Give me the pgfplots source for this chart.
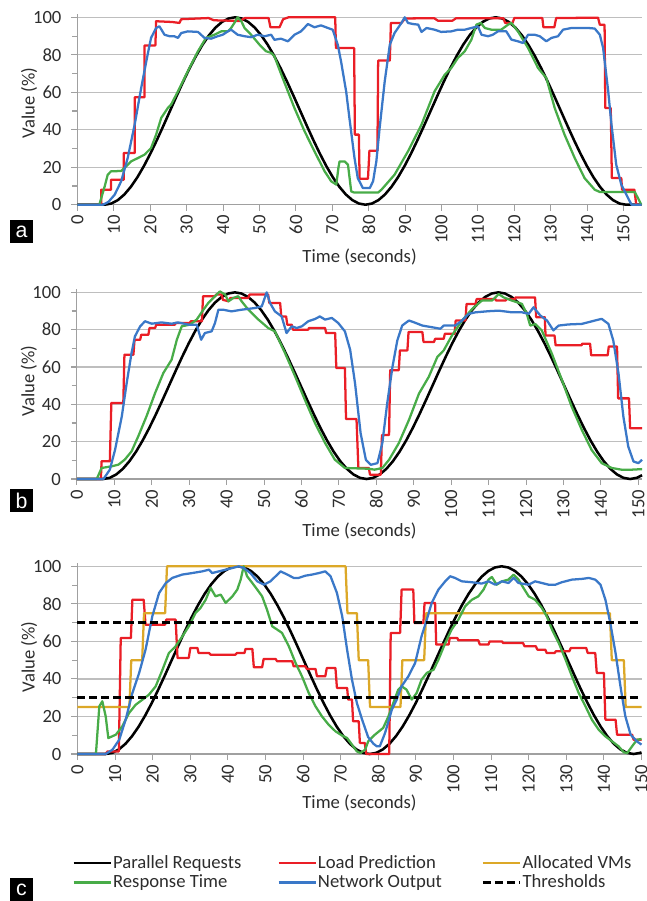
\documentclass[border=0pt]{standalone}
\usepackage{fontspec}
\setmainfont{Carlito}
\newfontfamily\boxfont{Liberation Sans}
\usepackage{pgfplots}
\pgfplotsset{compat=1.18}

\definecolor{cBlack}{RGB}{0,0,0}
\definecolor{cRed}{RGB}{234,30,38}
\definecolor{cGreen}{RGB}{72,172,72}
\definecolor{cBlue}{RGB}{58,120,200}
\definecolor{cGold}{RGB}{220,168,40}
\definecolor{axisgray}{RGB}{160,160,160}
\definecolor{gridgray}{RGB}{190,190,190}
\definecolor{txtgray}{RGB}{45,45,45}

\pgfplotsset{
  panel/.style={
    scale only axis, anchor=south west, clip=false,
    xmin=0, ymin=0, ymax=102,
    axis lines=left, axis line style={-, draw=axisgray, line width=0.9pt},
    tick align=outside,
    xtick={0,10,...,150}, ytick={0,20,...,100}, minor ytick={10,30,...,90},
    major tick length=4.5pt, minor tick length=4pt,
    tick style={draw=axisgray, line width=0.8pt},
    ymajorgrids, major grid style={draw=gridgray, line width=0.9pt},
    tick label style={font=\fontsize{14}{16}\selectfont, text=txtgray},
    xticklabel style={rotate=90, anchor=east},
    yticklabel style={xshift=-4pt},
    label style={font=\fontsize{14}{16}\selectfont, text=txtgray},
    xlabel={Time (seconds)}, ylabel={Value (\%)},
    /pgf/number format/assume math mode=true,
    every axis plot/.append style={line width=1.7pt, line join=round},
  },
  plBlack/.style={cBlack, line width=1.9pt},
  plRed/.style={cRed},
  plGreen/.style={cGreen},
  plBlue/.style={cBlue},
  plGold/.style={cGold},
  plThr/.style={black, line width=2.2pt, dash pattern=on 6pt off 3pt},
}

\newcommand{\panelbox}[2]{\node[fill=black, text=white, minimum width=17.25pt, minimum height=17.25pt, inner sep=0pt, font=\boxfont\fontsize{16}{16}\selectfont] at (#1) {#2};}

\begin{document}
\begin{tikzpicture}
\path[use as bounding box] (0,0) rectangle (485.25pt,-675.75pt);

% ---------------- panel a ----------------
\begin{axis}[panel, at={(58.125pt,-153.525pt)}, width=423.15pt, height=143.36pt, xmax=155,
  xlabel style={at={(axis description cs:0.5,-0.2736)}, anchor=center},
  ylabel style={at={(axis description cs:-0.086,0.532)}, anchor=center}]
\addplot[plBlack] coordinates {(0,0)(7.5,0)(9.29,0.62)(11.08,2.45)(12.87,5.45)(14.66,9.55)(16.45,14.64)(18.24,20.61)(20.03,27.30)(21.82,34.55)(23.61,42.18)(25.4,50)(27.19,57.82)(28.98,65.45)(30.77,72.70)(32.56,79.39)(34.35,85.36)(36.14,90.45)(37.93,94.55)(39.72,97.55)(41.51,99.38)(43.3,100)(45.09,99.38)(46.88,97.55)(48.67,94.55)(50.46,90.45)(52.25,85.36)(54.04,79.39)(55.83,72.70)(57.62,65.45)(59.41,57.82)(61.2,50)(62.99,42.18)(64.78,34.55)(66.57,27.30)(68.36,20.61)(70.15,14.64)(71.94,9.55)(73.73,5.45)(75.52,2.45)(77.31,0.62)(79.1,0)(80.89,0.62)(82.68,2.45)(84.47,5.45)(86.26,9.55)(88.05,14.64)(89.84,20.61)(91.63,27.30)(93.42,34.55)(95.21,42.18)(97.0,50)(98.79,57.82)(100.58,65.45)(102.37,72.70)(104.16,79.39)(105.95,85.36)(107.74,90.45)(109.53,94.55)(111.32,97.55)(113.11,99.38)(114.9,100)(116.69,99.38)(118.48,97.55)(120.27,94.55)(122.06,90.45)(123.85,85.36)(125.64,79.39)(127.43,72.70)(129.22,65.45)(131.01,57.82)(132.8,50)(134.59,42.18)(136.38,34.55)(138.17,27.30)(139.96,20.61)(141.75,14.64)(143.54,9.55)(145.33,5.45)(147.12,2.45)(148.91,0.62)(150.7,0)(155,0)};
\addplot[plRed] coordinates {(0,0)(6.5,0)(6.5,8)(9.2,8)(9.2,13.3)(12.7,13.3)(12.7,27.6)(15.7,27.6)(15.7,57.3)(18.4,57.3)(18.4,85)(21.4,85)(21.6,97.9)(26,97.5)(28,97)(28.5,99)(36,99.6)(37.5,98.4)(40,98.3)(44.5,98)(46,99.6)(52.5,99.6)(53,94.7)(55.5,94.7)(56.5,99)(58,100)(70.8,100)(71,83.6)(76,83.6)(76.2,37.4)(77.3,37.4)(77.5,13.9)(79.8,13.9)(80.2,28.8)(82.4,28.8)(82.6,76.9)(85.8,76.9)(86.1,97)(89,97)(90,99.4)(98,99.5)(99,98.2)(103,98.2)(104,99.5)(117,99.5)(117.5,97)(119.5,97)(120,99.6)(127.7,99.6)(128,94.7)(131,94.7)(131.5,99.6)(143,99.8)(143.5,96)(144.8,96)(145,51.6)(146.5,51.6)(146.8,14.2)(149.4,14.2)(149.6,8)(153,8)(153.5,0)(155,0)};
\addplot[plGreen] coordinates {(0,0)(6,0)(7.5,10)(8.3,16)(9.2,17.8)(12,18)(12.9,19.6)(14.7,23.1)(16.6,24.9)(18.4,26.7)(20.2,30.2)(21.6,37.4)(23,46.3)(24.8,51.6)(25.7,53.4)(27.6,60.5)(30.3,71.2)(33.1,81.9)(35.3,89)(37.6,90.7)(39.5,92.5)(41.3,92.5)(42.2,94.3)(43.1,97)(44,100)(45,97.9)(45.9,94.3)(47.7,90.7)(50,85.4)(51.8,81.9)(53.2,81)(54.1,79.2)(56,69.4)(57.8,60.5)(59.6,51.6)(62.4,39.1)(65.1,28.5)(67.9,17.8)(69.7,12.5)(71.1,10.7)(71.7,20)(72,23.1)(73.4,23.1)(74.3,21.4)(75.2,7.1)(76,6.5)(82.6,6.5)(83.5,8)(87.1,16)(90.8,28.5)(94.5,42.7)(98.1,60.5)(100.9,69.4)(102.7,73)(104.5,78.3)(106.4,81.9)(108.2,88)(109.6,96.1)(110.8,97)(111.9,94.3)(113.7,93.4)(116.4,93.4)(118.3,96.1)(119.2,97)(121,92.5)(123.8,83.6)(126.5,73)(128.8,67.6)(131.1,51.6)(133.8,37.4)(136.6,24.9)(139.3,14.2)(142.1,8)(143.5,6.8)(153.1,6.8)(154.9,0)(155,0)};
\addplot[plBlue] coordinates {(0,0)(7,0)(8.5,1.5)(10.2,5.3)(12,12.5)(13.8,25)(15.7,42.7)(17.5,62.3)(18.9,76.5)(20.2,89)(21.6,94.3)(22.5,95.2)(23.9,90.7)(25.3,89.9)(26.6,89.9)(27.6,89)(28.5,91.6)(30.3,92.5)(33.1,92.2)(34.9,89)(36.7,88.6)(38.5,89.9)(39.9,90.7)(41.3,92.5)(42.2,93.4)(44,90.7)(45.9,89.9)(47.7,89.4)(49.5,90.7)(51.4,89.9)(53.2,90.7)(54.1,88)(55.9,88.6)(57.8,87.2)(59.6,90.7)(61.4,92.5)(63.3,96.4)(65.1,94.7)(66.9,95.7)(68.8,94.3)(70.1,93.4)(71.5,85.4)(72.4,76.5)(73.8,60.5)(74.7,46.3)(76.1,24.9)(77,14.2)(78.4,8.9)(80.3,8.9)(81.2,12.5)(82.1,23.1)(83,40.9)(84.4,65.8)(85.8,85.4)(87.1,91.6)(89,97)(89.9,100)(90.8,97)(92.2,96.4)(93.6,96.1)(94.5,92.2)(95.9,94.3)(98.1,93.4)(99.9,92.2)(102.7,92.5)(104.5,93.4)(106.4,93.4)(108.2,94.3)(110,95.2)(111,90.7)(112.8,89.9)(114.1,90.7)(115.5,92.5)(117.8,92.5)(119.2,88.1)(121,87.2)(122.4,86.3)(123.8,90.7)(125.6,90.7)(127,89.9)(128.8,87.2)(130.2,89)(132,89.9)(133.4,93.4)(135.7,94.3)(140.3,94.3)(142.1,94)(143.5,90.7)(144.4,83.6)(145.8,60.5)(146.7,42.7)(148,21.4)(149.4,10.7)(150.8,5.3)(152.2,0)(155,0)};
\end{axis}

% ---------------- panel b ----------------
\begin{axis}[panel, at={(57.675pt,-359.25pt)}, width=423.9pt, height=142.8pt, xmax=151,
  xlabel style={at={(axis description cs:0.5,-0.2731)}, anchor=center},
  ylabel style={at={(axis description cs:-0.085,0.515)}, anchor=center}]
\addplot[plBlack] coordinates {(0,0)(7,0)(8.76,0.62)(10.52,2.45)(12.28,5.45)(14.04,9.55)(15.8,14.64)(17.56,20.61)(19.32,27.30)(21.08,34.55)(22.84,42.18)(24.6,50)(26.36,57.82)(28.12,65.45)(29.88,72.70)(31.64,79.39)(33.4,85.36)(35.16,90.45)(36.92,94.55)(38.68,97.55)(40.44,99.38)(42.2,100)(43.96,99.38)(45.72,97.55)(47.48,94.55)(49.24,90.45)(51.0,85.36)(52.76,79.39)(54.52,72.70)(56.28,65.45)(58.04,57.82)(59.8,50)(61.56,42.18)(63.32,34.55)(65.08,27.30)(66.84,20.61)(68.6,14.64)(70.36,9.55)(72.12,5.45)(73.88,2.45)(75.64,0.62)(77.4,0)(79.16,0.62)(80.92,2.45)(82.68,5.45)(84.44,9.55)(86.2,14.64)(87.96,20.61)(89.72,27.30)(91.48,34.55)(93.24,42.18)(95.0,50)(96.76,57.82)(98.52,65.45)(100.28,72.70)(102.04,79.39)(103.8,85.36)(105.56,90.45)(107.32,94.55)(109.08,97.55)(110.84,99.38)(112.6,100)(114.36,99.38)(116.12,97.55)(117.88,94.55)(119.64,90.45)(121.4,85.36)(123.16,79.39)(124.92,72.70)(126.68,65.45)(128.44,57.82)(130.2,50)(131.96,42.18)(133.72,34.55)(135.48,27.30)(137.24,20.61)(139.0,14.64)(140.76,9.55)(142.52,5.45)(144.28,2.45)(146.04,0.62)(147.8,0)(149.56,0.62)(151,2.03)};
\addplot[plRed] coordinates {(0,0)(6.4,0)(6.6,9.5)(8.8,9.5)(9.2,40.7)(12.4,40.7)(12.7,66.6)(15.1,66.6)(15.4,74.6)(16.9,74.6)(17.2,77.3)(19.1,77.3)(19.4,80.9)(20.9,80.9)(21.2,82.7)(26.2,82.7)(26.4,83.6)(30.2,83.6)(30.4,84.5)(33.4,84.5)(33.7,97.9)(36.9,97.9)(37.2,98.8)(38.7,98.8)(39,96)(40.5,95.2)(41,97)(45.8,97)(46.1,98.8)(51.1,98.8)(51.4,94.3)(54.3,94.3)(54.6,87.1)(55.9,87.1)(56.2,82.7)(57.4,82.7)(57.7,80)(61.8,80)(62,80.9)(66.3,80.9)(66.6,78.2)(69,78.2)(69.3,59.5)(71.6,59.5)(71.9,32.1)(74.7,32.1)(75.2,5.9)(78,5.9)(78.3,2.3)(81.2,2.3)(81.5,23.6)(83.4,23.6)(83.7,58.3)(86,58.3)(86.3,68.9)(88.3,68.9)(88.6,78.7)(92.3,78.7)(92.6,73.4)(95.4,73.4)(95.7,75.1)(98,75.1)(98.3,77.8)(100.9,77.8)(101.2,84.9)(103.8,84.9)(104.1,93.8)(106.5,93.8)(106.8,96.4)(111.8,96.4)(112,95.6)(114.5,95.6)(114.8,96.4)(117,96.4)(117.2,97.3)(122.4,97.3)(122.7,86.7)(125,86.7)(125.2,76.9)(127.6,76.9)(127.9,71.6)(134.8,71.6)(135,72.5)(137.1,72.5)(137.4,66.3)(141.8,66.3)(142.1,71)(144.3,71)(144.6,43.2)(147.5,43.2)(147.8,27.2)(151,27.2)};
\addplot[plGreen] coordinates {(0,0)(5.3,0)(6.6,5.9)(9.3,6.8)(11.1,7.7)(12.8,10.4)(14.6,14.8)(16.4,22.9)(18.6,33.6)(20.9,46.1)(23.1,56.8)(25.3,63.9)(26.7,74.6)(28,81.8)(30.2,82.7)(32,85.4)(33.8,90.7)(35.1,94.3)(36.9,97.9)(38.2,100.5)(39.6,98.8)(40.5,95.2)(41.8,97)(43.1,97.9)(44,95.2)(45.8,90.7)(48.5,85.4)(51.1,80.9)(52.9,79.1)(55.6,67.5)(58.3,55)(60.9,42.5)(63.6,30)(66.3,19.3)(68.9,10.4)(71.6,5.9)(78,5.5)(79.5,5)(81.6,5.9)(83.4,10.3)(86,19.2)(88.7,31.6)(91.4,45.8)(94,54.7)(96.3,65.4)(98,68.9)(100.2,76.9)(102.9,84.9)(105.6,91.1)(108.2,95.6)(110.9,95.6)(112.7,99.1)(114,97.3)(116.2,95.6)(118.9,93.8)(120.2,88.5)(121.1,82.2)(122.5,83)(124.2,79.6)(126.9,67.1)(129.6,52.9)(132.2,38.7)(134.9,26.3)(137.5,15.6)(140.2,8.5)(142.9,5.9)(145.5,5)(148.2,5)(151,5.3)};
\addplot[plBlue] coordinates {(0,0)(7.1,0)(8.8,5)(10.2,15.7)(12,33.6)(13.3,51.4)(14.6,67.5)(15.5,76.4)(16.9,81.8)(18.2,84.5)(20,83.2)(22.6,83.9)(25.3,83.2)(27,83.9)(29.8,82.7)(32,82.7)(33.2,74.6)(34.2,78.2)(36,79.1)(36.9,83.6)(37.8,90.7)(39.1,90.7)(41.3,89.8)(44,90.7)(47.6,91.6)(49.4,92.5)(50.7,100)(51.6,94.3)(52.9,89.8)(54.7,87.1)(56,78.2)(57.4,81.8)(58.7,80.9)(60.1,81.8)(61.8,84.5)(63.6,85.7)(64.9,87.1)(66.3,85.4)(68.1,86.3)(69.8,83.6)(71.6,79.1)(73,69.3)(74.3,51.4)(75.8,24.5)(77.2,10.3)(78.5,7.6)(80.3,8.5)(81.6,19.2)(82.9,40.5)(84.3,60)(85.6,74.2)(86.9,82.2)(88.7,84.9)(90,84)(92.3,82.2)(94.9,81.3)(97.1,80.5)(98,82.2)(101.1,82.2)(102.9,84.9)(104.7,88.5)(106.5,89.3)(110,89.9)(112.7,90.2)(116.2,89.3)(118.9,89.3)(120.7,88.5)(122,92)(123.8,87.6)(125.6,84.9)(127.3,79.6)(128.7,82.2)(131.3,82.8)(134.9,83.1)(138.4,84.9)(140.2,85.8)(142,83.1)(143.3,74.2)(144.7,56.5)(146,33.4)(147.3,17.4)(148.7,9.4)(150,8.5)(151,10.3)};
\end{axis}

% ---------------- panel c ----------------
\begin{axis}[panel, at={(58.125pt,-565.5pt)}, width=423pt, height=143.6pt, xmax=150,
  xlabel style={at={(axis description cs:0.5,-0.2559)}, anchor=center},
  ylabel style={at={(axis description cs:-0.086,0.5065)}, anchor=center},
  legend columns=3, legend cell align=left,
  legend image code/.code={\draw[#1] (0pt,0pt) -- (27.75pt,0pt);},
  legend style={draw=none, fill=none, at={(-0.00975,-0.521)}, anchor=north west,
    inner sep=0pt, font=\fontsize{14}{16}\selectfont, text=txtgray, row sep=1.5pt,
    nodes={inner sep=1pt},
    /tikz/column 2/.style={column sep=26pt},
    /tikz/column 4/.style={column sep=28.5pt}}]
\addplot[plBlack] coordinates {(0,0)(7.5,0)(9.26,0.62)(11.01,2.45)(12.77,5.45)(14.52,9.55)(16.28,14.64)(18.03,20.61)(19.79,27.30)(21.54,34.55)(23.3,42.18)(25.05,50)(26.81,57.82)(28.56,65.45)(30.32,72.70)(32.07,79.39)(33.83,85.36)(35.58,90.45)(37.34,94.55)(39.09,97.55)(40.85,99.38)(42.6,100)(44.36,99.38)(46.11,97.55)(47.87,94.55)(49.62,90.45)(51.38,85.36)(53.13,79.39)(54.89,72.70)(56.64,65.45)(58.4,57.82)(60.15,50)(61.91,42.18)(63.66,34.55)(65.42,27.30)(67.17,20.61)(68.93,14.64)(70.68,9.55)(72.44,5.45)(74.19,2.45)(75.95,0.62)(77.7,0)(79.46,0.62)(81.21,2.45)(82.97,5.45)(84.72,9.55)(86.48,14.64)(88.23,20.61)(89.99,27.30)(91.74,34.55)(93.5,42.18)(95.25,50)(97.01,57.82)(98.76,65.45)(100.52,72.70)(102.27,79.39)(104.03,85.36)(105.78,90.45)(107.54,94.55)(109.29,97.55)(111.05,99.38)(112.8,100)(114.56,99.38)(116.31,97.55)(118.07,94.55)(119.82,90.45)(121.58,85.36)(123.33,79.39)(125.09,72.70)(126.84,65.45)(128.6,57.82)(130.35,50)(132.11,42.18)(133.86,34.55)(135.62,27.30)(137.37,20.61)(139.13,14.64)(140.88,9.55)(142.64,5.45)(144.39,2.45)(146.15,0.62)(147.9,0)(149.66,0.62)(150,0.89)};
\addlegendentry{Parallel Requests}
\addplot[plRed] coordinates {(0,0)(7.5,0)(8,1.4)(11,1.4)(11.5,61.8)(14.2,61.8)(14.6,82.2)(17.6,82.2)(18.1,68.9)(23.3,68.9)(23.6,71.6)(26.1,71.6)(26.6,51.2)(29.6,51.2)(30,56.5)(31.9,56.5)(32.2,53.8)(35,53.8)(35.4,52.9)(42,52.9)(42.4,53.8)(44.4,53.8)(44.7,56)(46.5,56)(46.9,46.2)(49.1,46.2)(49.5,50.6)(52.7,50.6)(53.1,49.4)(57.1,49.4)(57.5,46.7)(60.6,46.7)(61,45.3)(63.3,45.3)(63.7,41.4)(65.9,41.4)(66.3,45.8)(68.6,45.8)(69,35.2)(71.7,35.2)(72,29)(73,29)(73.3,17.4)(74.8,17.4)(75.1,5.9)(76.4,5.9)(76.8,0)(82.9,0)(83.3,64.5)(85.8,64.5)(86.2,87.6)(89.3,87.6)(89.6,69.8)(92,69.8)(92.3,80.5)(95.1,80.5)(95.4,58.3)(98.7,58.3)(99,61.8)(101,61.8)(101.3,60.6)(106.6,60.6)(107,58.3)(109.3,58.3)(109.6,60)(112.9,60)(113.2,59.1)(118.5,59.1)(118.9,57.4)(121.9,57.4)(122.3,55.6)(124.4,55.6)(124.8,53.8)(126.9,53.8)(127.2,54.7)(130.8,54.7)(131.2,56.5)(135.3,56.5)(135.7,53.8)(137.7,53.8)(138.1,43.2)(140,43.2)(140.4,18.3)(143.1,18.3)(143.5,10.3)(147.5,10.3)(147.9,7.6)(150,7.6)};
\addlegendentry{Load Prediction}
\addplot[plGold] coordinates {(0,25)(13.8,25)(14.3,50)(17.2,50)(17.7,75)(23.3,75)(23.8,100)(71.3,100)(71.8,75)(74.3,75)(74.8,50)(77.3,50)(77.8,25)(85.9,25)(86.4,50)(92.2,50)(92.7,75)(141.6,75)(142.1,50)(145.3,50)(145.8,25)(150,25)};
\addlegendentry{Allocated VMs}
\addplot[plGreen] coordinates {(0,0)(4.9,0)(5.8,25.4)(6.6,28.1)(7.5,20.1)(8.2,8.5)(10.2,10.3)(11.9,14.7)(13.7,21.8)(15.5,26.3)(17.3,29)(19,31.6)(20.8,36.1)(22.6,44.9)(24.3,53.8)(26.1,57.4)(27.9,62.7)(29.6,68)(31.4,75.1)(32.7,77.8)(34.1,82.2)(35.4,88.5)(36.7,84)(38.1,84.9)(39.4,80.5)(41.2,84)(42.5,87.6)(43.4,92.9)(44.2,100)(45.1,94.7)(46.5,91.1)(47.8,87.6)(49.1,84)(50.4,76.9)(51.8,68)(53.1,66.3)(54.4,64.5)(56.2,57.4)(58,48.5)(59.7,41.4)(61.5,32.5)(63.3,25.4)(65,20.1)(66.8,15.6)(68.6,12.1)(70.4,9.8)(71.7,8.5)(73,5)(74.3,1.4)(75.2,0.5)(76.5,2.3)(77.3,6.7)(79.1,10.3)(81.3,13.9)(82.7,20.1)(84,27.2)(85.3,34.3)(86.2,36.1)(87.5,34.3)(88.9,29)(90.2,32.5)(91.5,39.6)(92.9,43.2)(94.7,44.9)(96,50.3)(97.8,59.1)(99.5,66.3)(101.3,71.6)(103.1,78.7)(104.9,82.2)(106.6,84)(108,87.6)(109.3,92.9)(110.2,94.3)(111.5,90.2)(112.9,92)(114.6,92.9)(116,95.6)(117.3,92.9)(118.6,88.5)(120,84)(121.7,82.2)(123.5,77.8)(124.8,73.4)(126.2,66.3)(128,59.1)(129.8,50.3)(131.5,41.4)(133.3,32.5)(135.1,25.4)(136.8,18.3)(138.6,13)(140.4,9.4)(142.2,6.7)(143.9,4.1)(145.3,0.9)(146.2,0.5)(147.5,4.1)(148.8,7.6)(150,8)};
\addlegendentry{Response Time}
\addplot[plBlue] coordinates {(0,0)(7.5,0)(9.3,2.3)(11.1,7.6)(12.8,18.3)(14.6,32.5)(16.4,43.2)(18.1,55.6)(19.9,73.4)(21.7,85.8)(23.5,91.1)(25.2,93.8)(27.9,95.6)(30.5,96.4)(33.2,97.3)(35,98.2)(35.8,96.4)(37.6,97.3)(39.4,98.2)(41.2,99.1)(42.9,100)(44.2,99.1)(46,96.4)(47.8,92)(49.6,90.2)(51.3,92)(52.7,94.7)(54,97.3)(55.8,95.6)(57.5,93.8)(58.8,93.8)(60.6,95)(62.4,95.6)(64.2,96.4)(65.9,97.3)(67.3,94.7)(69,85.8)(70.4,73.4)(71.7,55.6)(73,39.6)(74.3,27.2)(75.7,18.3)(77.3,9)(78.7,5.5)(79.6,4.1)(80.4,4.1)(81.8,11.2)(83.6,23.6)(84.9,29)(86.2,36.1)(88,41.4)(89.8,48.5)(91.5,62.7)(92.9,71.6)(94.2,80.5)(96,87.6)(97.8,92)(99.1,94.7)(100.4,93.8)(102.2,92)(104.9,91.5)(107.5,90.8)(109.3,92)(111.1,90.2)(112.9,92)(114.6,91.1)(116,93.8)(117.3,91.1)(120,90.2)(121.7,92)(123.5,91.1)(125.3,90.2)(127.1,90.2)(128.8,91.5)(131.5,92.9)(134.2,93.3)(136,93.8)(137.7,92.9)(139.1,90.2)(140.4,82.2)(141.7,69.8)(143.1,53.8)(144.4,36.1)(145.7,20.1)(147.1,10.3)(148.8,6.7)(150,5)};
\addlegendentry{Network Output}
\addplot[plThr] coordinates {(0,70)(150,70)};
\addlegendentry{Thresholds}
\addplot[plThr, forget plot] coordinates {(0,30)(150,30)};
\end{axis}

\panelbox{16.125pt,-173.625pt}{a}
\panelbox{16.125pt,-375.375pt}{b}
\panelbox{16.125pt,-667.125pt}{c}
\end{tikzpicture}
\end{document}
